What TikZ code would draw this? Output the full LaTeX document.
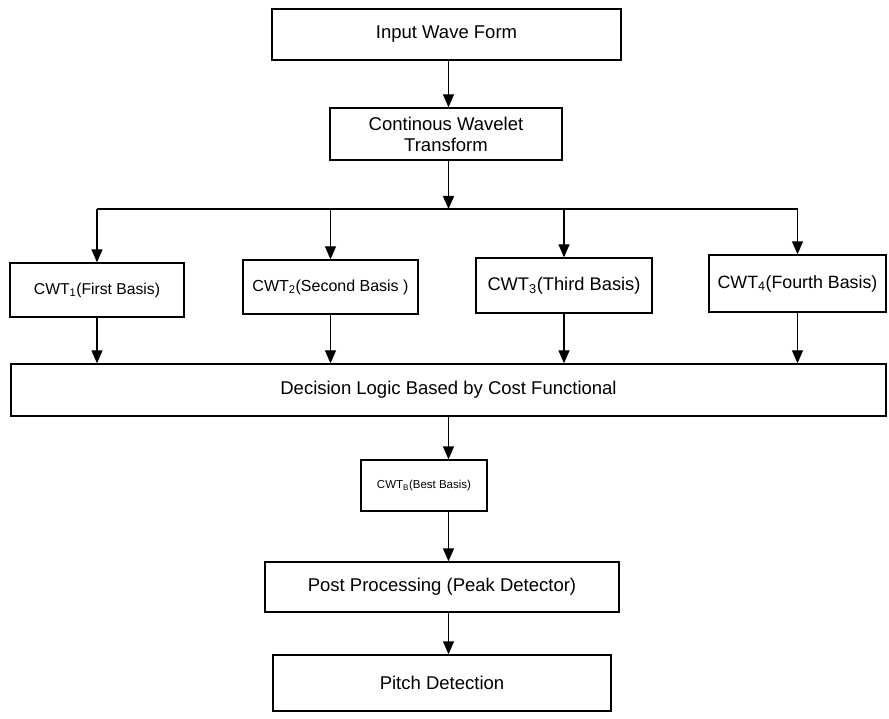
\documentclass[tikz,border=0pt]{standalone}
\usepackage{fontspec}
\setmainfont{Liberation Sans}
\usetikzlibrary{arrows.meta}
\begin{document}
\begin{tikzpicture}[x=1pt,y=-1pt,
  box/.style={draw,line width=1.4pt,inner sep=0pt,align=center,font=\fontsize{18.5}{21}\selectfont},
  arr/.style={line width=1.4pt,-{Triangle[length=13pt,width=11pt]}},
  ln/.style={line width=1.4pt}]
\path[use as bounding box] (0,0) rectangle (889,719);
\node[box,minimum width=349pt,minimum height=51pt] (in) at (446.5,34.5) {Input Wave Form};
\node[box,minimum width=232pt,minimum height=52pt] (cwt) at (446,134) {Continous Wavelet\\Transform};
\node[box,minimum width=174pt,minimum height=54pt,font=\fontsize{15.7}{18}\selectfont] (c1) at (97,290) {CWT\textsubscript{1}(First Basis)};
\node[box,minimum width=175pt,minimum height=54pt,font=\fontsize{16}{18}\selectfont] (c2) at (330.5,287) {CWT\textsubscript{2}(Second Basis )};
\node[box,minimum width=176pt,minimum height=55pt,font=\fontsize{18.3}{20}\selectfont] (c3) at (564,285.5) {CWT\textsubscript{3}(Third Basis)};
\node[box,minimum width=177pt,minimum height=57pt,font=\fontsize{17.8}{20}\selectfont] (c4) at (797.5,283.5) {CWT\textsubscript{4}(Fourth Basis)};
\node[box,minimum width=875pt,minimum height=52pt] (dec) at (448.5,390) {Decision Logic Based by Cost Functional};
\node[box,minimum width=126pt,minimum height=51pt,font=\fontsize{11.5}{14}\selectfont] (cb) at (424,485.5) {CWT\textsubscript{B}(Best Basis)};
\node[box,minimum width=354pt,minimum height=50pt] (pp) at (442,587) {Post Processing (Peak Detector)};
\node[box,minimum width=338pt,minimum height=56pt] (pd) at (442,683) {Pitch Detection};
\coordinate (spine) at (448.5,0);
\coordinate (bus) at (448,209);
\draw[arr] (in.south -| spine) -- (cwt.north -| spine);
\draw[arr] (cwt.south -| spine) -- (bus -| spine);
\draw[ln] (bus -| c1) -- (bus -| c4);
\foreach \c in {c1,c2,c3,c4}{
  \draw[arr] (bus -| \c) -- (\c.north);
  \draw[arr] (\c.south) -- (dec.north -| \c);
}
\draw[arr] (dec.south -| spine) -- (cb.north -| spine);
\draw[arr] (cb.south -| spine) -- (pp.north -| spine);
\draw[arr] (pp.south -| spine) -- (pd.north -| spine);
\end{tikzpicture}
\end{document}
